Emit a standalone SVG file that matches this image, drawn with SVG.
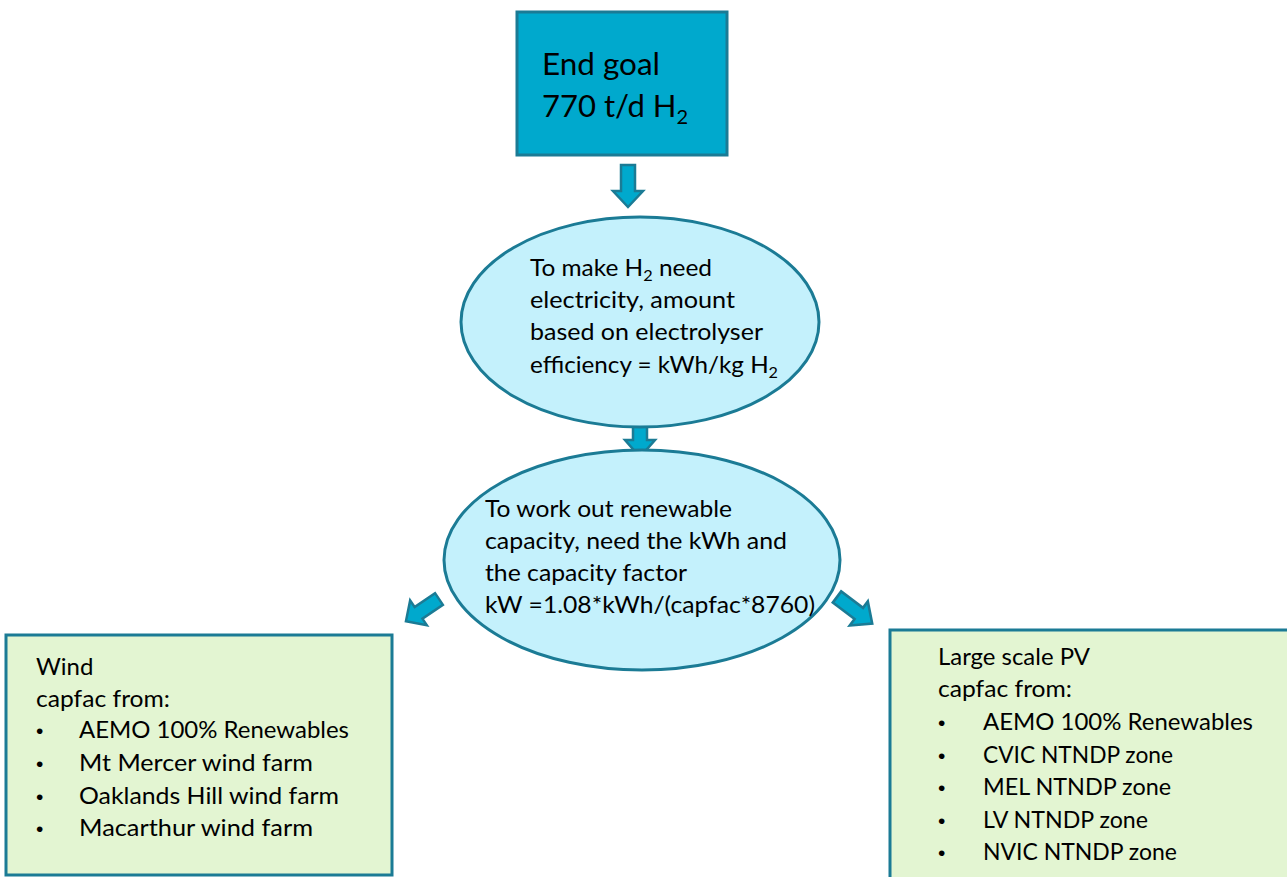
<svg xmlns="http://www.w3.org/2000/svg" width="1287" height="877" viewBox="0 0 1287 877">
  <defs>
    <style>
      .goal { fill: #00A9CD; stroke: #1B7B95; stroke-width: 3; }
      .step { fill: #C4F1FC; stroke: #1B7B95; stroke-width: 3; }
      .source { fill: #E3F5D2; stroke: #1B7B95; stroke-width: 3; }
      .arrow { fill: #00A9CD; stroke: #1B7B95; stroke-width: 2.5; stroke-linejoin: miter; }
      text { font-family: Lato, "Open Sans", "Liberation Sans", sans-serif; fill: #000; }
      .big { font-size: 31px; }
      .mid { font-size: 24px; }
      .sub { font-size: 16px; }
      .bigsub { font-size: 20px; }
      .bullet { font-family: "Liberation Sans", sans-serif; font-size: 21px; }
    </style>
    <!-- block arrow pointing down (+y), length 42 -->
    <path id="blockArrow" d="M -7 0 H 7 V 26 H 15 L 0 42 L -15 26 H -7 Z"/>
    <path id="blockArrowShort" d="M -7 0 H 7 V 18 H 15 L 0 35 L -15 18 H -7 Z"/>
  </defs>

  <rect width="1287" height="877" fill="#FFFFFF"/>

  <!-- connectors -->
  <g id="connectors">
    <use href="#blockArrow" class="arrow" transform="translate(628,165)"/>
    <use href="#blockArrowShort" class="arrow" transform="translate(640,422)"/>
    <use href="#blockArrow" class="arrow" transform="translate(439,599) rotate(56) scale(1,0.95)"/>
    <use href="#blockArrow" class="arrow" transform="translate(837,597) rotate(-53) scale(1,1.05)"/>
  </g>

  <!-- end goal -->
  <g id="end-goal">
    <rect class="goal" x="517" y="12" width="210" height="143"/>
    <text class="big" x="542" y="75" textLength="118" lengthAdjust="spacingAndGlyphs">End goal</text>
    <text class="big" x="542" y="117">770 t/d H<tspan class="bigsub" dy="7">2</tspan></text>
  </g>

  <!-- electricity requirement -->
  <g id="electricity">
    <ellipse class="step" cx="640" cy="322" rx="179" ry="105"/>
    <text class="mid" x="530" y="276" textLength="182" lengthAdjust="spacingAndGlyphs">To make H<tspan class="sub" dy="5">2</tspan><tspan dy="-5"> need</tspan></text>
    <text class="mid" x="530" y="308" textLength="205" lengthAdjust="spacingAndGlyphs">electricity, amount</text>
    <text class="mid" x="530" y="340" textLength="233" lengthAdjust="spacingAndGlyphs">based on electrolyser</text>
    <text class="mid" x="530" y="373" textLength="248" lengthAdjust="spacingAndGlyphs">efficiency = kWh/kg  H<tspan class="sub" dy="5">2</tspan></text>
  </g>

  <!-- renewable capacity -->
  <g id="capacity">
    <ellipse class="step" cx="642" cy="560" rx="198" ry="110"/>
    <text class="mid" x="485" y="517" textLength="247" lengthAdjust="spacingAndGlyphs">To work out renewable</text>
    <text class="mid" x="485" y="549" textLength="302" lengthAdjust="spacingAndGlyphs">capacity, need the kWh and</text>
    <text class="mid" x="485" y="581" textLength="202" lengthAdjust="spacingAndGlyphs">the capacity factor</text>
    <text class="mid" x="485" y="613" textLength="330" lengthAdjust="spacingAndGlyphs">kW =1.08*kWh/(capfac*8760)</text>
  </g>

  <!-- wind sources -->
  <g id="wind">
    <rect class="source" x="6" y="635" width="386" height="240"/>
    <text class="mid" x="36" y="675">Wind</text>
    <text class="mid" x="36" y="707" textLength="134" lengthAdjust="spacingAndGlyphs">capfac from:</text>
    <text class="bullet" x="36" y="738">•</text>
    <text class="mid" x="79" y="738" textLength="270" lengthAdjust="spacingAndGlyphs">AEMO 100% Renewables</text>
    <text class="bullet" x="36" y="771">•</text>
    <text class="mid" x="79" y="771" textLength="234" lengthAdjust="spacingAndGlyphs">Mt Mercer wind farm</text>
    <text class="bullet" x="36" y="804">•</text>
    <text class="mid" x="79" y="804" textLength="260" lengthAdjust="spacingAndGlyphs">Oaklands Hill wind farm</text>
    <text class="bullet" x="36" y="836">•</text>
    <text class="mid" x="79" y="836" textLength="234" lengthAdjust="spacingAndGlyphs">Macarthur wind farm</text>
  </g>

  <!-- solar PV sources -->
  <g id="solar-pv">
    <rect class="source" x="890" y="630" width="400" height="250"/>
    <text class="mid" x="938" y="665" textLength="152" lengthAdjust="spacingAndGlyphs">Large scale PV</text>
    <text class="mid" x="938" y="697" textLength="134" lengthAdjust="spacingAndGlyphs">capfac from:</text>
    <text class="bullet" x="938" y="730">•</text>
    <text class="mid" x="983" y="730" textLength="270" lengthAdjust="spacingAndGlyphs">AEMO 100% Renewables</text>
    <text class="bullet" x="938" y="763">•</text>
    <text class="mid" x="983" y="763" textLength="190" lengthAdjust="spacingAndGlyphs">CVIC NTNDP zone</text>
    <text class="bullet" x="938" y="795">•</text>
    <text class="mid" x="983" y="795" textLength="188" lengthAdjust="spacingAndGlyphs">MEL NTNDP zone</text>
    <text class="bullet" x="938" y="828">•</text>
    <text class="mid" x="983" y="828" textLength="165" lengthAdjust="spacingAndGlyphs">LV NTNDP zone</text>
    <text class="bullet" x="938" y="860">•</text>
    <text class="mid" x="983" y="860" textLength="194" lengthAdjust="spacingAndGlyphs">NVIC NTNDP zone</text>
  </g>
</svg>
